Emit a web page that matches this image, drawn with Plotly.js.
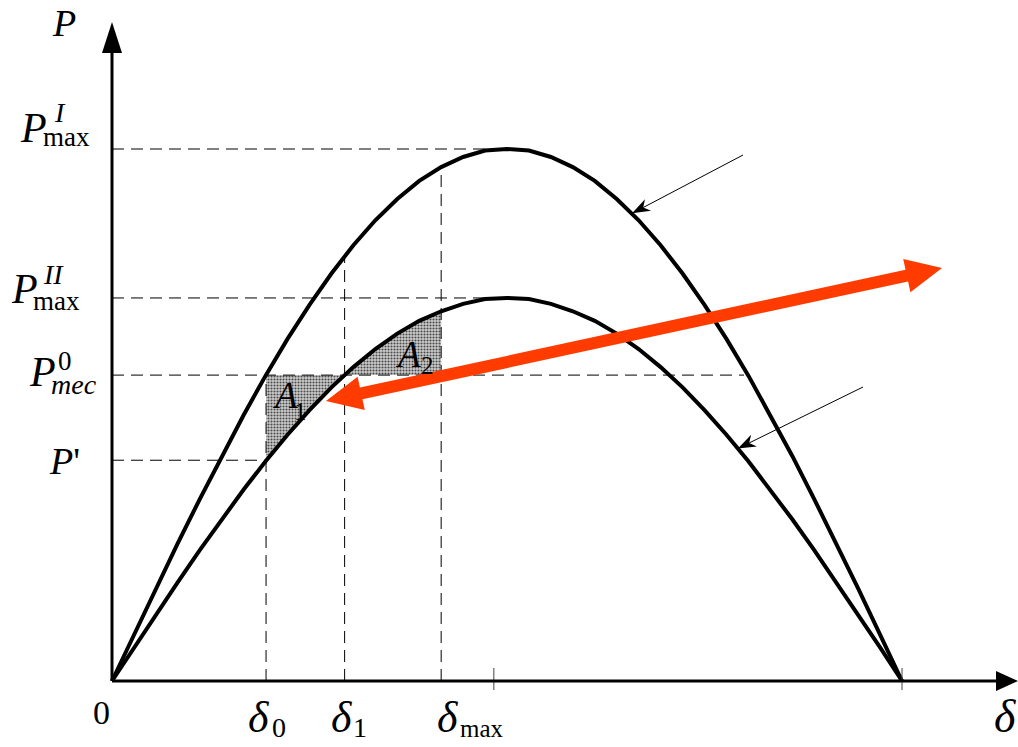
<!DOCTYPE html>
<html>
<head>
<meta charset="utf-8">
<script src="https://cdn.plot.ly/plotly-3.0.1.min.js"></script>
<style>
html,body{margin:0;padding:0;background:#fff;}
#chart{width:1018px;height:747px;}
</style>
</head>
<body>
<div id="chart"></div>
<script>
// ---------- data ----------
const delta = [0,5,10,15,20,25,30,35,40,45,50,55,60,65,70,75,80,85,90,95,100,105,110,115,120,125,130,135,140,145,150,155,160,165,170,175,180];
const P_I  = [0,0.087,0.174,0.259,0.342,0.423,0.500,0.574,0.643,0.707,0.766,0.819,0.866,0.906,0.940,0.966,0.985,0.997,1.000,0.997,0.985,0.966,0.940,0.906,0.866,0.819,0.766,0.707,0.643,0.574,0.500,0.423,0.342,0.259,0.174,0.087,0];
const P_II = [0,0.063,0.125,0.186,0.246,0.304,0.360,0.413,0.463,0.509,0.552,0.590,0.624,0.653,0.677,0.695,0.709,0.718,0.720,0.718,0.709,0.695,0.677,0.653,0.624,0.590,0.552,0.509,0.463,0.413,0.360,0.304,0.246,0.186,0.125,0.063,0];
const PmaxI = 1.0, PmaxII = 0.72, Pmec = 0.575, Pprime = 0.415;
const delta0 = 35.1, delta1 = 53.0, deltaMax = 75.0, deltaMecEnd = 144.0, peakStart = 85.0;
const xTicks = [87, 180];

// ---------- pixel <-> data helpers (axis scale) ----------
const X0 = 112, Y0 = 681, KX = 790/180, KY = 532;
const dx = px => (px - X0) / KX;
const dy = py => (Y0 - py) / KY;
const pxOf = d => X0 + d * KX;
const pyOf = p => Y0 - p * KY;
const upperAt = d => P_I[delta.indexOf(d)];

// ---------- traces ----------
const patt = {shape: '.', size: 3, solidity: 0.4, fgcolor: '#4a4a4a', bgcolor: '#cdcdcd'};
// A1: between P_mec line (top) and lower curve, from delta0 to delta1
const a1x = [delta0, delta1], a1y = [Pmec, Pmec];
for (let i = delta.length - 1; i >= 0; i--) if (delta[i] < delta1 && delta[i] > delta0) { a1x.push(delta[i]); a1y.push(P_II[i]); }
a1x.push(delta0); a1y.push(Pprime);
// A2: between lower curve (top) and P_mec line, from delta1 to deltaMax
const a2x = [delta1], a2y = [Pmec];
for (let i = 0; i < delta.length; i++) if (delta[i] > delta1 && delta[i] <= deltaMax) { a2x.push(delta[i]); a2y.push(P_II[i]); }
a2x.push(deltaMax); a2y.push(Pmec);

const traces = [
  {x: a1x, y: a1y, type: 'scatter', mode: 'lines', fill: 'toself', fillcolor: '#cdcdcd', fillpattern: patt, line: {width: 0}, hoverinfo: 'skip'},
  {x: a2x, y: a2y, type: 'scatter', mode: 'lines', fill: 'toself', fillcolor: '#cdcdcd', fillpattern: patt, line: {width: 0}, hoverinfo: 'skip'},
  {x: delta, y: P_I, type: 'scatter', mode: 'lines', line: {color: '#000', width: 4}},
  {x: delta, y: P_II, type: 'scatter', mode: 'lines', line: {color: '#000', width: 4}}
];

// ---------- shapes ----------
const dash = {color: '#000', width: 1, dash: '12px,7px'};
const shapes = [];
function seg(x0, y0, x1, y1, line, layer) { shapes.push({type: 'line', xref: 'x', yref: 'y', x0, y0, x1, y1, line, layer: layer || 'above'}); }
function poly(ptsPx, color) {
  const s = ptsPx.map((p, i) => (i ? 'L' : 'M') + dx(p[0]).toFixed(4) + ',' + dy(p[1]).toFixed(5)).join(' ') + ' Z';
  shapes.push({type: 'path', xref: 'x', yref: 'y', path: s, fillcolor: color, line: {width: 0}, layer: 'above'});
}
// dashed guide lines
seg(0, PmaxI, peakStart, PmaxI, dash);
seg(0, PmaxII, peakStart, PmaxII, dash);
seg(0, Pmec, deltaMecEnd, Pmec, dash);
seg(0, Pprime, delta0, Pprime, dash);
seg(delta0, 0, delta0, Pmec, dash);
seg(delta1, 0, delta1, PmaxI * 0.80, dash);
seg(deltaMax, 0, deltaMax, upperAt(deltaMax), dash);
// ticks on delta axis
xTicks.forEach(t => seg(t, dy(Y0 - 13), t, dy(Y0 + 9), {color: '#444', width: 1}));
// axes
seg(0, 0, 0, dy(45), {color: '#000', width: 3});
seg(0, 0, dx(1000), 0, {color: '#000', width: 3});
poly([[X0, 22], [X0 + 10, 53], [X0 - 10, 53]], '#000');
poly([[1018, Y0], [996, Y0 - 10], [996, Y0 + 10]], '#000');

// arrow helper (pixel space)
function arrow(T, H, L, W, w, color, both) {
  const ux = H[0] - T[0], uy = H[1] - T[1], len = Math.hypot(ux, uy);
  const u = [ux / len, uy / len], n = [-u[1], u[0]];
  const P = (b, a, s) => [b[0] + a * u[0] + s * n[0], b[1] + a * u[1] + s * n[1]];
  if (both) {
    poly([T, P(T, L, W), P(T, L, w), P(H, -L, w), P(H, -L, W), H, P(H, -L, -W), P(H, -L, -w), P(T, L, -w), P(T, L, -W)], color);
  } else {
    const b = P(H, -L * 0.7, 0);
    seg(dx(T[0]), dy(T[1]), dx(b[0]), dy(b[1]), {color: color, width: w});
    poly([H, P(H, -L, W), P(H, -L * 0.7, 0), P(H, -L, -W)], color);
  }
}
// red double arrow
arrow([326, 401], [942, 268], 36, 17, 6, '#ff3b00', true);
// thin pointer arrows to the curves
arrow([743, 155], [pxOf(118.5), pyOf(0.879)], 18, 6.5, 1, '#000', false);
arrow([863, 387], [pxOf(142.6), pyOf(0.437)], 18, 6.5, 1, '#000', false);

// ---------- labels ----------
const FONT = 'Liberation Serif, Times New Roman, serif';
function lab(text, pxLeft, pyMid, size) {
  return {xref: 'x', yref: 'y', x: dx(pxLeft), y: dy(pyMid), xanchor: 'left', yanchor: 'middle',
          text: text, showarrow: false, font: {family: FONT, size: size, color: '#000'}};
}
const annotations = [
  lab('<i>P</i>', 50, 23, 38),
  lab('<i>P</i>', 18, 128, 42), lab('<i>I</i>', 52, 112, 28), lab('max', 41, 137, 27),
  lab('<i>P</i>', 9, 289, 42), lab('<i>II</i>', 41, 274, 28), lab('max', 31, 301, 27),
  lab('<i>P</i>', 27, 372, 42), lab('0', 56, 361, 27), lab('<i>mec</i>', 49, 384, 28),
  lab("<i>P</i>'", 47, 461, 38),
  lab('0', 91, 712, 34),
  lab('<i>δ</i>', 246, 717, 44), lab('0', 270, 727, 28),
  lab('<i>δ</i>', 329, 717, 44), lab('1', 351, 727, 28),
  lab('<i>δ</i>', 435, 717, 44), lab('max', 458, 728, 25),
  lab('<i>δ</i>', 992, 716, 46),
  lab('<i>A</i>', 270, 395, 37), lab('1', 292, 411, 25),
  lab('<i>A</i>', 393, 354, 37), lab('2', 419, 365, 25)
];

const layout = {
  width: 1018, height: 747,
  margin: {l: 0, r: 0, t: 0, b: 0},
  paper_bgcolor: '#fff', plot_bgcolor: '#fff',
  showlegend: false,
  xaxis: {range: [dx(0), dx(1018)], visible: false, fixedrange: true},
  yaxis: {range: [dy(747), dy(0)], visible: false, fixedrange: true},
  shapes: shapes,
  annotations: annotations
};
Plotly.newPlot('chart', traces, layout, {staticPlot: true, displayModeBar: false});
</script>
</body>
</html>
